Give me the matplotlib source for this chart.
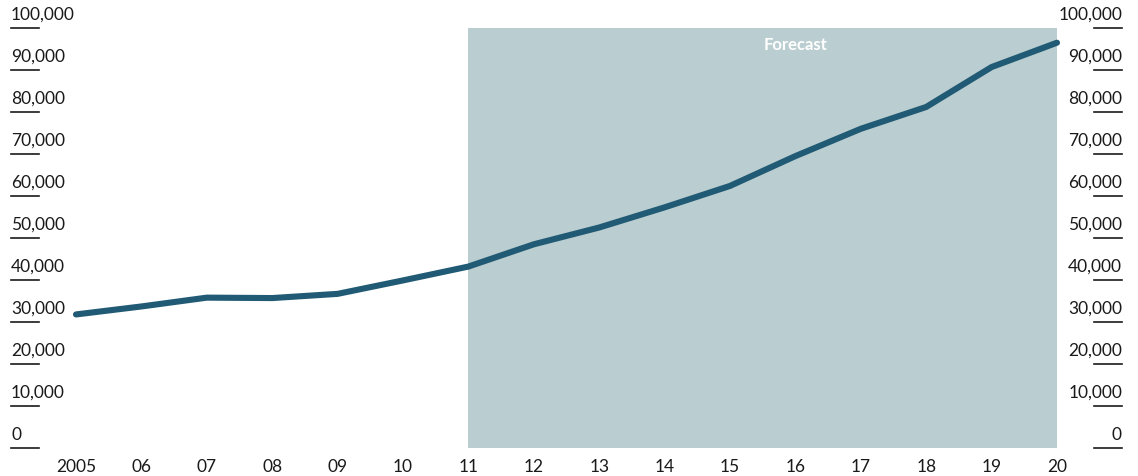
import matplotlib.pyplot as plt
from matplotlib.transforms import blended_transform_factory

# data
years = list(range(2005, 2021))
values = [31800, 33700, 35800, 35700, 36700, 39900, 43200, 48500,
          52500, 57300, 62400, 69500, 76000, 81200, 90700, 96500]
year_labels = ["2005", "06", "07", "08", "09", "10", "11", "12",
               "13", "14", "15", "16", "17", "18", "19", "20"]
y_ticks = list(range(0, 100001, 10000))
forecast_start = 2011
forecast_label = "Forecast"

line_color = "#215a74"
shade_color = "#bacdd0"
text_color = "#1a1a1a"

plt.rcParams['font.family'] = ['Lato', 'DejaVu Sans']

W, H = 1138, 476
fig = plt.figure(figsize=(W / 100, H / 100), dpi=100)
ax = fig.add_axes([76 / W, 28 / H, (1057 - 76) / W, (448 - 28) / H])

ax.axvspan(forecast_start, years[-1], color=shade_color, lw=0, zorder=0)
ax.plot(years, values, color=line_color, lw=4.4, solid_capstyle='round',
        solid_joinstyle='round', clip_on=False, zorder=3)

ax.set_xlim(years[0], years[-1])
ax.set_ylim(0, 100000)
for s in ax.spines.values():
    s.set_visible(False)
ax.set_yticks([])
ax.set_xticks(years)
ax.set_xticklabels(year_labels, fontsize=12.5, color=text_color)
ax.tick_params(axis='x', length=0, pad=8)

# y labels sit on short underline ticks on both sides
tr = blended_transform_factory(fig.transFigure, ax.transData)
for v in y_ticks:
    lab = f"{v:,}"
    ax.plot([11 / W, 39 / W], [v, v], color=text_color, lw=1.2,
            transform=tr, clip_on=False)
    ax.plot([1094 / W, 1122 / W], [v, v], color=text_color, lw=1.2,
            transform=tr, clip_on=False)
    ax.annotate(lab, (11 / W, v), xycoords=tr, xytext=(0, 5),
                textcoords='offset pixels', ha='left', va='bottom',
                fontsize=12.5, color=text_color, annotation_clip=False)
    ax.annotate(lab, (1122 / W, v), xycoords=tr, xytext=(0, 5),
                textcoords='offset pixels', ha='right', va='bottom',
                fontsize=12.5, color=text_color, annotation_clip=False)

ax.text(2016, 96000, forecast_label, ha='center', va='center',
        color='white', fontsize=12, fontweight='bold')

fig.savefig("out.png", dpi=100)
